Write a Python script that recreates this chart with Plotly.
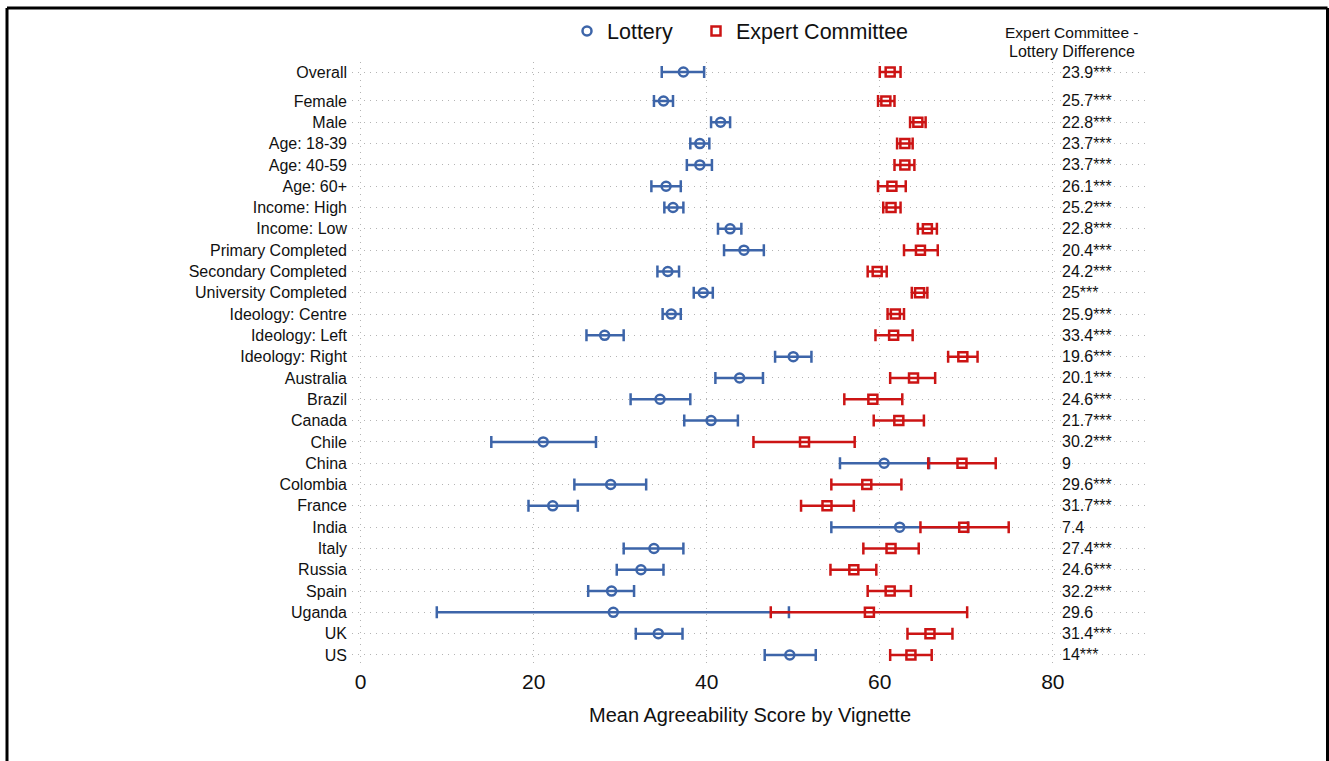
import plotly.graph_objects as go

# ---------------- data ----------------
categories = ["Overall", "Female", "Male", "Age: 18-39", "Age: 40-59", "Age: 60+",
              "Income: High", "Income: Low", "Primary Completed", "Secondary Completed",
              "University Completed", "Ideology: Centre", "Ideology: Left", "Ideology: Right",
              "Australia", "Brazil", "Canada", "Chile", "China", "Colombia", "France",
              "India", "Italy", "Russia", "Spain", "Uganda", "UK", "US"]

lottery_mean = [37.3, 35.0, 41.6, 39.2, 39.2, 35.3, 36.1, 42.7, 44.3, 35.5, 39.6, 35.9, 28.2, 50.0,
                43.8, 34.6, 40.5, 21.1, 60.5, 28.9, 22.2, 62.3, 33.9, 32.4, 29.0, 29.2, 34.4, 49.6]
lottery_lo = [34.8, 33.9, 40.5, 38.1, 37.7, 33.6, 35.1, 41.3, 42.0, 34.3, 38.5, 34.9, 26.1, 47.9,
              41.0, 31.2, 37.4, 15.1, 55.4, 24.7, 19.4, 54.4, 30.4, 29.6, 26.3, 8.8, 31.8, 46.7]
lottery_hi = [39.7, 36.1, 42.7, 40.3, 40.6, 37.0, 37.3, 44.0, 46.6, 36.8, 40.7, 37.0, 30.4, 52.1,
              46.5, 38.1, 43.6, 27.2, 65.7, 33.0, 25.1, 70.2, 37.3, 35.0, 31.6, 49.5, 37.2, 52.6]

expert_mean = [61.2, 60.7, 64.4, 62.9, 62.9, 61.4, 61.3, 65.5, 64.7, 59.7, 64.6, 61.8, 61.6, 69.6,
               63.9, 59.2, 62.2, 51.3, 69.5, 58.5, 53.9, 69.7, 61.3, 57.0, 61.2, 58.8, 65.8, 63.6]
expert_lo = [60.0, 59.8, 63.5, 62.0, 61.7, 59.8, 60.4, 64.4, 62.8, 58.6, 63.7, 60.9, 59.5, 67.9,
             61.2, 55.9, 59.3, 45.4, 65.6, 54.4, 50.9, 64.7, 58.1, 54.3, 58.6, 47.4, 63.2, 61.2]
expert_hi = [62.4, 61.7, 65.3, 63.8, 64.0, 63.0, 62.4, 66.6, 66.7, 60.8, 65.5, 62.8, 63.8, 71.3,
             66.4, 62.6, 65.1, 57.1, 73.4, 62.5, 57.0, 74.9, 64.5, 59.6, 63.6, 70.1, 68.4, 66.0]

difference_labels = ["23.9***", "25.7***", "22.8***", "23.7***", "23.7***", "26.1***", "25.2***",
                     "22.8***", "20.4***", "24.2***", "25***", "25.9***", "33.4***", "19.6***",
                     "20.1***", "24.6***", "21.7***", "30.2***", "9", "29.6***", "31.7***", "7.4",
                     "27.4***", "24.6***", "32.2***", "29.6", "31.4***", "14***"]

x_ticks = [0, 20, 40, 60, 80]

# ---------------- layout helpers ----------------
n = len(categories)
# rows from bottom (US = 0) up to Female; Overall separated by a small gap
ypos = []
for i in range(n):
    if i == 0:
        ypos.append(n - 2 + 1.36)
    else:
        ypos.append(n - 1 - i)

BLUE = "#3d65a9"
RED = "#cc1414"
FONT = "Liberation Sans, Arial, Helvetica, sans-serif"
TXT = "#111111"

PL, PR, PT, PB = 352, 181, 61, 96
W, H = 1329, 761
pw, ph = W - PL - PR, H - PT - PB


def px_to_paper_x(px):
    return (px - PL) / pw


def px_to_paper_y(py):
    return (H - PB - py) / ph


fig = go.Figure()

fig.add_trace(go.Scatter(
    x=lottery_mean, y=ypos, mode="markers", name="Lottery", legend="legend",
    marker=dict(symbol="circle-open", size=9, color=BLUE, line=dict(width=2.5, color=BLUE)),
    error_x=dict(type="data", symmetric=False,
                 array=[h - m for h, m in zip(lottery_hi, lottery_mean)],
                 arrayminus=[m - l for m, l in zip(lottery_mean, lottery_lo)],
                 color=BLUE, thickness=2.5, width=6),
    hoverinfo="x+y"))

fig.add_trace(go.Scatter(
    x=expert_mean, y=ypos, mode="markers", name="Expert Committee", legend="legend2",
    marker=dict(symbol="square-open", size=9, color=RED, line=dict(width=2.5, color=RED)),
    error_x=dict(type="data", symmetric=False,
                 array=[h - m for h, m in zip(expert_hi, expert_mean)],
                 arrayminus=[m - l for m, l in zip(expert_mean, expert_lo)],
                 color=RED, thickness=2.5, width=6),
    hoverinfo="x+y"))

annotations = []
for lab, y in zip(difference_labels, ypos):
    annotations.append(dict(x=80.85, y=y, xref="x", yref="y", text=lab, showarrow=False,
                            xanchor="left", yanchor="middle",
                            font=dict(size=16, color=TXT, family=FONT)))

annotations.append(dict(x=82.2, y=px_to_paper_y(31), xref="x", yref="paper",
                        text="Expert Committee -", showarrow=False, xanchor="center",
                        yanchor="middle", font=dict(size=15.5, color=TXT, family=FONT)))
annotations.append(dict(x=82.2, y=px_to_paper_y(50), xref="x", yref="paper",
                        text="Lottery Difference", showarrow=False, xanchor="center",
                        yanchor="middle", font=dict(size=16, color=TXT, family=FONT)))

shapes = []
fx0, fx1 = px_to_paper_x(7), px_to_paper_x(1327.5)
fy0, fy1 = px_to_paper_y(770), px_to_paper_y(7)
for (x0, y0, x1, y1) in [(fx0, fy0, fx0, fy1), (fx0, fy1, fx1, fy1), (fx1, fy1, fx1, fy0)]:
    shapes.append(dict(type="line", xref="paper", yref="paper", x0=x0, y0=y0, x1=x1, y1=y1,
                       line=dict(color="black", width=3), layer="above"))

legend_common = dict(orientation="h", yanchor="middle", xanchor="left",
                     font=dict(size=21.5, color=TXT, family=FONT),
                     bgcolor="rgba(0,0,0,0)", itemclick=False, itemdoubleclick=False)

fig.update_layout(
    width=W, height=H,
    margin=dict(l=PL, r=PR, t=PT, b=PB, pad=0),
    paper_bgcolor="white", plot_bgcolor="white",
    font=dict(family=FONT, color=TXT),
    showlegend=True,
    legend=dict(x=px_to_paper_x(567), y=px_to_paper_y(31), **legend_common),
    legend2=dict(x=px_to_paper_x(696), y=px_to_paper_y(31), **legend_common),
    annotations=annotations,
    shapes=shapes,
    xaxis=dict(range=[-1, 91], tickvals=x_ticks, ticktext=[str(t) for t in x_ticks],
               showgrid=True, gridcolor="#b4b4b4", gridwidth=1, griddash="1px,5px",
               zeroline=False, showline=False, ticks="", ticklabelstandoff=2,
               tickfont=dict(size=21, color=TXT, family=FONT),
               title=dict(text="Mean Agreeability Score by Vignette",
                          font=dict(size=20, color=TXT, family=FONT), standoff=15)),
    yaxis=dict(range=[-0.47, 27.83], tickvals=ypos, ticktext=categories,
               showgrid=True, gridcolor="#b4b4b4", gridwidth=1, griddash="1px,5px",
               zeroline=False, showline=False, ticks="", ticklabelstandoff=4,
               tickfont=dict(size=16, color=TXT, family=FONT)),
)

fig.write_html("out.html")
